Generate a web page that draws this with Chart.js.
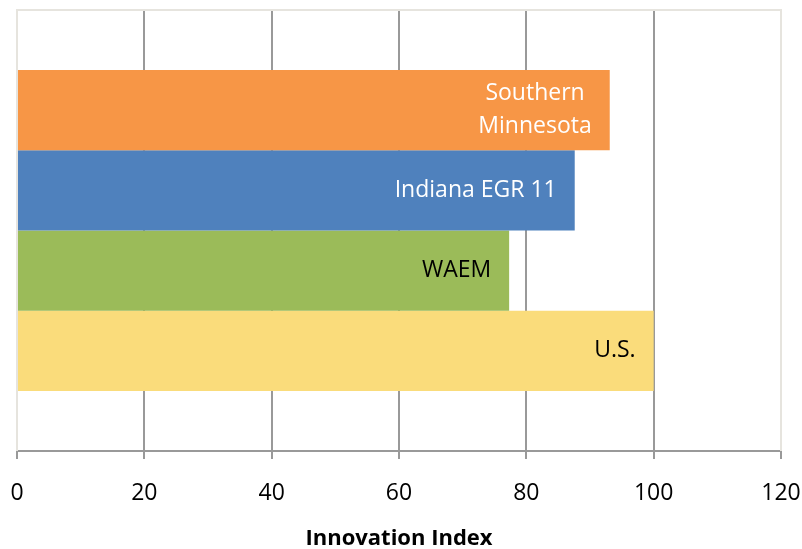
<!DOCTYPE html>
<html>
<head>
<meta charset="utf-8">
<script src="https://cdn.jsdelivr.net/npm/chart.js@4.4.0/dist/chart.umd.min.js"></script>
<style>
  html, body { margin: 0; padding: 0; background: #fff; }
  #wrap { width: 802px; height: 549px; }
</style>
</head>
<body>
<div id="wrap"><canvas id="chart" width="802" height="549"></canvas></div>
<script>
const categories = [''];
const seriesNames = [['Southern', 'Minnesota'], ['Indiana EGR 11'], ['WAEM'], ['U.S.']];
const seriesValues = [93.1, 87.6, 77.3, 100];
const seriesColors = ['#F79646', '#4F81BD', '#9BBB59', '#FADC7B'];
const labelColors = ['#ffffff', '#ffffff', '#000000', '#000000'];
const xTicks = [0, 20, 40, 60, 80, 100, 120];

const FONT = '"Open Sans", sans-serif';

// frame around the plot area (light lines at top/left/right)
const framePlugin = {
  id: 'frame',
  beforeDatasetsDraw(chart) {
    const { ctx, chartArea: a } = chart;
    ctx.save();
    ctx.strokeStyle = '#E6E4DE';
    ctx.lineWidth = 2;
    ctx.beginPath();
    ctx.moveTo(a.left, a.bottom);
    ctx.lineTo(a.left, a.top);
    ctx.lineTo(a.right, a.top);
    ctx.lineTo(a.right, a.bottom);
    ctx.stroke();
    ctx.restore();
  }
};

// names written inside the end of each bar
const barLabels = {
  id: 'barLabels',
  afterDatasetsDraw(chart) {
    const { ctx } = chart;
    ctx.save();
    ctx.font = '23px ' + FONT;
    ctx.textBaseline = 'middle';
    ctx.textAlign = 'center';
    chart.data.datasets.forEach((ds, i) => {
      const bar = chart.getDatasetMeta(i).data[0];
      const lines = seriesNames[i];
      const w = Math.max(...lines.map(l => ctx.measureText(l).width));
      const cx = bar.x - 18 - w / 2;
      const lh = 33;
      ctx.fillStyle = labelColors[i];
      lines.forEach((l, k) => {
        ctx.fillText(l, cx, bar.y + (k - (lines.length - 1) / 2) * lh);
      });
    });
    ctx.restore();
  }
};

new Chart(document.getElementById('chart'), {
  type: 'bar',
  data: {
    labels: categories,
    datasets: seriesValues.map((v, i) => ({
      label: seriesNames[i].join(' '),
      data: [v],
      backgroundColor: seriesColors[i],
      borderWidth: 0,
      categoryPercentage: 0.728,
      barPercentage: 1
    }))
  },
  options: {
    indexAxis: 'y',
    responsive: false,
    animation: false,
    layout: { padding: { left: 17, right: 21, top: 10, bottom: -3 } },
    plugins: {
      legend: { display: false },
      tooltip: { enabled: false }
    },
    scales: {
      x: {
        min: 0,
        max: 120,
        afterBuildTicks(axis) { axis.ticks = xTicks.map(v => ({ value: v })); },
        afterFit(axis) { axis.paddingLeft = 0; axis.paddingRight = 0; },
        grid: {
          color: ctx => (ctx.tick && (ctx.tick.value === 0 || ctx.tick.value === 120)) ? '#E6E4DE' : '#999999',
          lineWidth: 2,
          tickLength: 8,
          tickColor: '#999999',
          drawOnChartArea: true
        },
        border: { color: '#999999', width: 2 },
        ticks: {
          color: '#000',
          font: { family: FONT, size: 23 },
          padding: 21,
          maxRotation: 0
        },
        title: {
          display: true,
          text: 'Innovation Index',
          color: '#000',
          font: { family: FONT, size: 22, weight: 'bold' },
          padding: { top: -3, bottom: 0 }
        }
      },
      y: {
        display: false
      }
    }
  },
  plugins: [framePlugin, barLabels]
});
</script>
</body>
</html>
